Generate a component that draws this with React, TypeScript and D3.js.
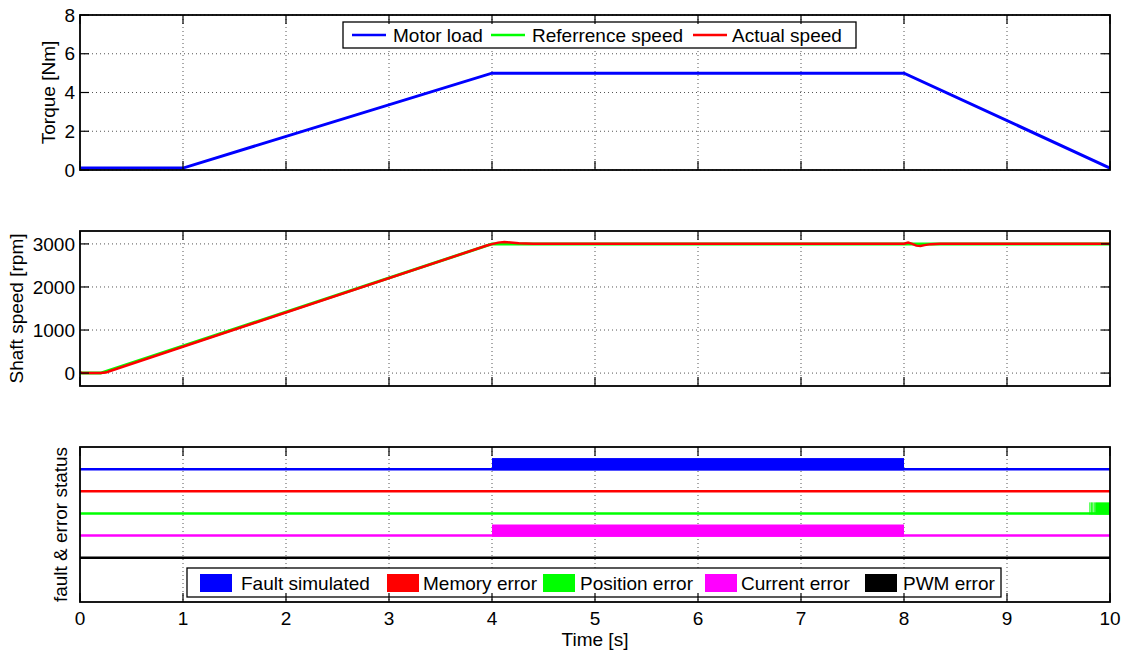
import React from 'react';
import * as d3 from 'd3';

const timeTicks = [0, 1, 2, 3, 4, 5, 6, 7, 8, 9, 10];
const torqueTicks = [0, 2, 4, 6, 8];
const speedTicks = [0, 1000, 2000, 3000];

const loadTime = [0, 1, 4, 8, 10];
const loadValues = [0.1, 0.1, 5, 5, 0.1];

const refTime = [0, 0.2, 4, 10];
const refValues = [0, 0, 3000, 3000];

const actTime = [0, 0.02, 0.2, 0.25, 0.3, 3.95, 4.0, 4.06, 4.12, 4.18, 4.26, 4.4, 4.6, 8.0, 8.04, 8.08, 8.12, 8.16, 8.2, 8.26, 8.35, 8.5, 10];
const actValues = [25, 0, 0, 12, 55, 2962, 2996, 3030, 3042, 3035, 3015, 3006, 3004, 3004, 3032, 3000, 2960, 2950, 2972, 2995, 3004, 3006, 3006];

const statusNames = ['Fault simulated', 'Memory error', 'Position error', 'Current error', 'PWM error'];
const statusColors = ['#0000ff', '#ff0000', '#00ff00', '#ff00ff', '#000000'];
const statusLevels = [4, 3, 2, 1, 0];
const faultActive = [[4, 8]];
const memoryActive: number[][] = [];
const positionActive = [[9.8, 9.804], [9.814, 9.818], [9.828, 9.833], [9.842, 9.847], [9.856, 10]];
const currentActive = [[4, 8]];
const pwmActive: number[][] = [];
const statusActive = [faultActive, memoryActive, positionActive, currentActive, pwmActive];
const statusHigh = 0.5;

const FONT = '"Liberation Sans", Arial, Helvetica, sans-serif';
const FS = 19;
const W = 1127, H = 653;
const X0 = 80, X1 = 1110;

const x = d3.scaleLinear().domain([0, 10]).range([X0, X1]);
const yTorque = d3.scaleLinear().domain([0, 8]).range([170, 15]);
const ySpeed = d3.scaleLinear().domain([-300, 3300]).range([386, 231]);
const yStatus = d3.scaleLinear().domain([-2, 5]).range([602, 447]);

function Grid({ ys, yTicks, vertical }: { ys: d3.ScaleLinear<number, number>; yTicks: number[]; vertical: boolean }) {
  const [b, t] = ys.range();
  return (
    <g stroke="#555" strokeWidth={1} strokeDasharray="1 3">
      {vertical && timeTicks.slice(1, -1).map(v => (
        <line key={'v' + v} x1={x(v)} x2={x(v)} y1={t} y2={b} />
      ))}
      {yTicks.map(v => (
        <line key={'h' + v} x1={X0} x2={X1} y1={ys(v)} y2={ys(v)} />
      ))}
    </g>
  );
}

function Frame({ ys, yTicks, xLabels }: { ys: d3.ScaleLinear<number, number>; yTicks: number[]; xLabels: boolean }) {
  const [b, t] = ys.range();
  const tl = 9;
  return (
    <g>
      <g stroke="#000" strokeWidth={1.2}>
        {timeTicks.map(v => (
          <g key={'xt' + v}>
            <line x1={x(v)} x2={x(v)} y1={b} y2={b - tl} />
            <line x1={x(v)} x2={x(v)} y1={t} y2={t + tl} />
          </g>
        ))}
        {yTicks.map(v => (
          <g key={'yt' + v}>
            <line x1={X0} x2={X0 + tl} y1={ys(v)} y2={ys(v)} />
            <line x1={X1} x2={X1 - tl} y1={ys(v)} y2={ys(v)} />
          </g>
        ))}
      </g>
      <rect x={X0} y={t} width={X1 - X0} height={b - t} fill="none" stroke="#000" strokeWidth={1.8} />
      <g fontFamily={FONT} fontSize={FS} fill="#000">
        {yTicks.map(v => (
          <text key={'yl' + v} x={X0 - 5} y={ys(v)} dy="0.35em" textAnchor="end">{v}</text>
        ))}
        {xLabels && timeTicks.map(v => (
          <text key={'xl' + v} x={x(v)} y={b + 16} dy="0.35em" textAnchor="middle">{v}</text>
        ))}
      </g>
    </g>
  );
}

export default function App() {
  const torqueLine = d3.line<number>().x((_, i) => x(loadTime[i])).y(d => yTorque(d));
  const refLine = d3.line<number>().x((_, i) => x(refTime[i])).y(d => ySpeed(d));
  const actLine = d3.line<number>().x((_, i) => x(actTime[i])).y(d => ySpeed(d));

  const topLegend = [
    { name: 'Motor load', color: '#0000ff', lx: 352, tx: 393 },
    { name: 'Referrence speed', color: '#00ff00', lx: 491, tx: 532 },
    { name: 'Actual speed', color: '#ff0000', lx: 693, tx: 732 },
  ];
  const botLegendX = [[200, 241], [387, 423], [543, 580], [705, 741], [865, 903]];

  return (
    <svg width={W} height={H} style={{ position: 'absolute', left: 0, top: 0, background: '#fff' }}>
      <rect x={0} y={0} width={W} height={H} fill="#fff" />

      {/* Top: torque */}
      <Grid ys={yTorque} yTicks={torqueTicks} vertical={true} />
      <path d={torqueLine(loadValues) || ''} fill="none" stroke="#0000ff" strokeWidth={3} />
      <g>
        <rect x={343} y={22} width={513} height={26} fill="#fff" stroke="#000" strokeWidth={1.3} />
        {topLegend.map(l => (
          <g key={l.name}>
            <line x1={l.lx} x2={l.lx + 34} y1={35} y2={35} stroke={l.color} strokeWidth={2.5} />
            <text x={l.tx} y={35} dy="0.35em" fontFamily={FONT} fontSize={FS}>{l.name}</text>
          </g>
        ))}
      </g>
      <Frame ys={yTorque} yTicks={torqueTicks} xLabels={false} />
      <text transform={`translate(55,${(15 + 170) / 2}) rotate(-90)`} textAnchor="middle" fontFamily={FONT} fontSize={FS}>Torque [Nm]</text>

      {/* Middle: speed */}
      <Grid ys={ySpeed} yTicks={speedTicks} vertical={true} />
      <path d={refLine(refValues) || ''} fill="none" stroke="#00ff00" strokeWidth={3} />
      <path d={actLine(actValues) || ''} fill="none" stroke="#ff0000" strokeWidth={2.5} />
      <Frame ys={ySpeed} yTicks={speedTicks} xLabels={false} />
      <text transform={`translate(23,${(231 + 386) / 2}) rotate(-90)`} textAnchor="middle" fontFamily={FONT} fontSize={FS}>Shaft speed [rpm]</text>

      {/* Bottom: status */}
      <Grid ys={yStatus} yTicks={[]} vertical={true} />
      {statusLevels.map((lv, i) => (
        <g key={statusNames[i]}>
          <line x1={X0} x2={X1} y1={yStatus(lv)} y2={yStatus(lv)} stroke={statusColors[i]} strokeWidth={2.5} />
          {statusActive[i].map((seg, j) => (
            <rect key={j} x={x(seg[0])} width={Math.max(1, x(seg[1]) - x(seg[0]))}
              y={yStatus(lv + statusHigh)} height={yStatus(lv) - yStatus(lv + statusHigh) + 1.2}
              fill={statusColors[i]} />
          ))}
        </g>
      ))}
      <g>
        <rect x={187} y={568} width={814} height={29} fill="#fff" stroke="#000" strokeWidth={1.3} />
        {statusNames.map((n, i) => (
          <g key={n}>
            <rect x={botLegendX[i][0]} y={574} width={32} height={18} fill={statusColors[i]} />
            <text x={botLegendX[i][1]} y={583} dy="0.35em" fontFamily={FONT} fontSize={FS}>{n}</text>
          </g>
        ))}
      </g>
      <Frame ys={yStatus} yTicks={[]} xLabels={true} />
      <text transform={`translate(67,${(447 + 602) / 2}) rotate(-90)`} textAnchor="middle" fontFamily={FONT} fontSize={FS}>fault &amp; error status</text>
      <text x={(X0 + X1) / 2} y={639} dy="0.35em" textAnchor="middle" fontFamily={FONT} fontSize={FS}>Time [s]</text>
    </svg>
  );
}
